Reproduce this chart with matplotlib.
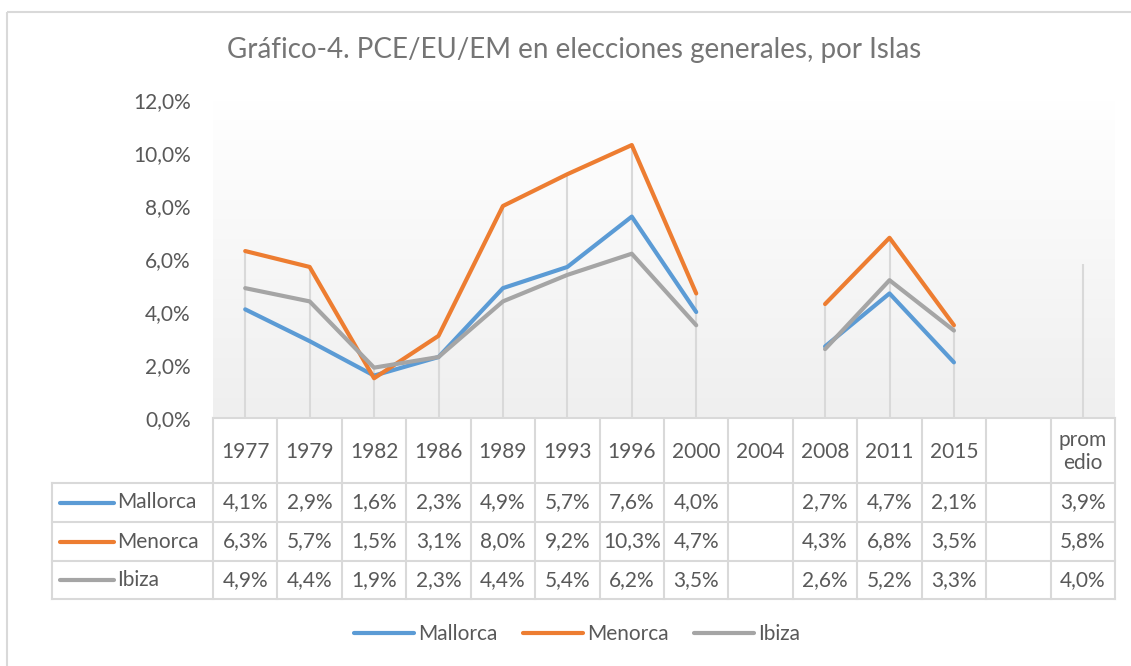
import numpy as np
import matplotlib.pyplot as plt
from matplotlib.colors import LinearSegmentedColormap
from matplotlib.lines import Line2D
from matplotlib.patches import Rectangle

plt.rcParams['font.family'] = ['Lato', 'DejaVu Sans']

title = 'Gráfico-4. PCE/EU/EM en elecciones generales, por Islas'
categories = ['1977', '1979', '1982', '1986', '1989', '1993', '1996', '2000',
              '2004', '2008', '2011', '2015', '', 'prom\nedio']
series_names = ['Mallorca', 'Menorca', 'Ibiza']
mallorca = [4.1, 2.9, 1.6, 2.3, 4.9, 5.7, 7.6, 4.0, None, 2.7, 4.7, 2.1, None, 3.9]
menorca = [6.3, 5.7, 1.5, 3.1, 8.0, 9.2, 10.3, 4.7, None, 4.3, 6.8, 3.5, None, 5.8]
ibiza = [4.9, 4.4, 1.9, 2.3, 4.4, 5.4, 6.2, 3.5, None, 2.6, 5.2, 3.3, None, 4.0]
colors = ['#5B9BD5', '#ED7D31', '#A5A5A5']
y_ticks = [0, 2, 4, 6, 8, 10, 12]

series = [mallorca, menorca, ibiza]
W, H = 1131, 666
text_c = '#595959'
grid_c = '#D9D9D9'
fs = 15


def pct(v):
    return f'{v:.1f}%'.replace('.', ',')


fig = plt.figure(figsize=(W / 100, H / 100), dpi=100)

# pixel overlay for border, table
bg = fig.add_axes([0, 0, 1, 1], zorder=0)
bg.set_xlim(0, W)
bg.set_ylim(H, 0)
bg.axis('off')
bg.add_patch(Rectangle((7, 12), 1140, 680, fill=False, edgecolor=grid_c, lw=1.5))

# plot area
left, right, top, bottom = 213, 1115, 100, 418
ax = fig.add_axes([left / W, 1 - bottom / H, (right - left) / W, (bottom - top) / H], zorder=2)
ax.set_facecolor('none')
n = len(categories)
x = np.arange(n) + 0.5
grad = LinearSegmentedColormap.from_list('g', ['#FFFFFF', '#EFEFEF'])
ax.imshow(np.linspace(0, 1, 256).reshape(-1, 1), cmap=grad, aspect='auto',
          extent=(0, n, 0, 12), zorder=0)

for i in range(n):
    vals = [s[i] for s in series if s[i] is not None]
    if vals:
        ax.vlines(x[i], 0, max(vals), color=grid_c, lw=1.5, zorder=1)

for s, c, name in zip(series, colors, series_names):
    y = np.array([np.nan if v is None else v for v in s])
    ax.plot(x, y, color=c, lw=3, solid_capstyle='round', label=name, zorder=3)

ax.set_xlim(0, n)
ax.set_ylim(0, 12)
ax.set_xticks([])
ax.set_yticks(y_ticks)
ax.set_yticklabels([pct(v) for v in y_ticks], fontsize=fs, color=text_c)
ax.tick_params(axis='y', length=0, pad=16)
for sp in ['top', 'right', 'left']:
    ax.spines[sp].set_visible(False)
ax.spines['bottom'].set_color(grid_c)
ax.spines['bottom'].set_linewidth(1.5)

# data table
col_w = (right - left) / n
rows = [418, 483, 522, 561, 599]
tab_left = 52
for k in range(n + 1):
    xb = left + k * col_w
    bg.plot([xb, xb], [rows[0], rows[-1]], color=grid_c, lw=1.5)
bg.plot([tab_left, tab_left], [rows[1], rows[-1]], color=grid_c, lw=1.5)
for yb in rows[1:]:
    bg.plot([tab_left, right], [yb, yb], color=grid_c, lw=1.5)

for i, cat in enumerate(categories):
    cx = left + (i + 0.5) * col_w
    bg.text(cx, (rows[0] + rows[1]) / 2 + 1, cat, ha='center', va='center',
            fontsize=fs, color=text_c, linespacing=1.2)
for r, (s, c, name) in enumerate(zip(series, colors, series_names)):
    cy = (rows[r + 1] + rows[r + 2]) / 2
    bg.plot([60, 114], [cy, cy], color=c, lw=3, solid_capstyle='round')
    bg.text(117, cy, name, ha='left', va='center', fontsize=fs, color=text_c)
    for i, v in enumerate(s):
        if v is not None:
            cx = left + (i + 0.5) * col_w
            bg.text(cx, cy, pct(v), ha='center', va='center', fontsize=fs, color=text_c)

fig.text(574 / W, 1 - 50 / H, title, ha='center', va='center', fontsize=20, color='#757575')

handles = [Line2D([], [], color=c, lw=3, solid_capstyle='round') for c in colors]
fig.legend(handles, series_names, loc='center', bbox_to_anchor=(577 / W, 1 - 634 / H),
           ncol=3, frameon=False, fontsize=fs, handlelength=2.9, handletextpad=0.2,
           columnspacing=1.2, labelcolor=text_c)

fig.savefig('out.png', dpi=100)
